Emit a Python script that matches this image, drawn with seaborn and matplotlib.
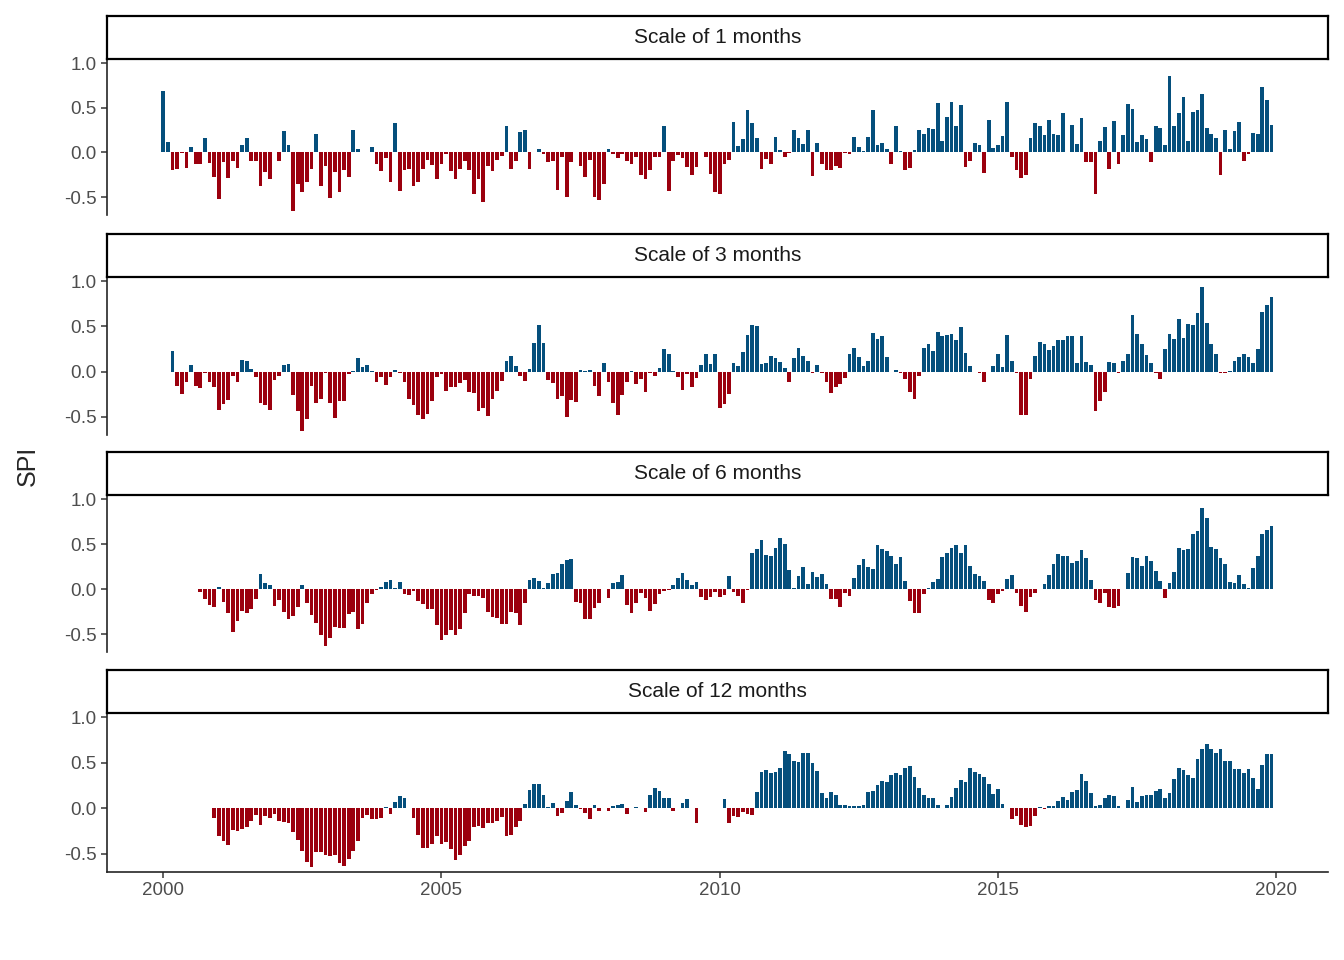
import numpy as np
import pandas as pd
import matplotlib

matplotlib.use("Agg")
import matplotlib.pyplot as plt
import seaborn as sns

sns.set_theme(style="ticks")
plt.rcParams["font.family"] = ["Liberation Sans", "DejaVu Sans"]

BLUE = "#054f7c"
RED = "#9b000e"

# SPI values, each series ends in Dec 2019
spi_1 = [
    0.69, 0.12, -0.20, -0.18, -0.01, -0.17, 0.06, -0.13, -0.13, 0.16, -0.12, -0.27,
    -0.52, -0.11, -0.29, -0.10, -0.17, 0.08, 0.16, -0.10, -0.10, -0.38, -0.22, -0.30,
    0.01, -0.10, 0.24, 0.08, -0.66, -0.35, -0.44, -0.33, -0.19, 0.21, -0.38, -0.15,
    -0.51, -0.22, -0.44, -0.20, -0.27, 0.25, 0.04, 0.01, 0.01, 0.06, -0.13, -0.21,
    -0.06, -0.33, 0.33, -0.43, -0.20, -0.18, -0.38, -0.33, -0.19, -0.09, -0.14, -0.30,
    -0.13, -0.02, -0.21, -0.30, -0.18, -0.10, -0.20, -0.47, -0.30, -0.56, -0.15, -0.21,
    -0.09, -0.04, 0.30, -0.18, -0.10, 0.23, 0.25, -0.18, 0.00, 0.04, -0.02, -0.11,
    -0.10, -0.42, -0.05, -0.50, -0.11, 0.00, -0.15, -0.27, -0.08, -0.50, -0.53, -0.35,
    0.04, -0.02, -0.06, -0.02, -0.10, -0.13, -0.05, -0.25, -0.30, -0.20, -0.05, -0.05,
    0.29, -0.43, -0.10, -0.03, -0.06, -0.16, -0.25, -0.16, 0.00, -0.05,
    -0.24, -0.44, -0.47, -0.13, -0.08, 0.34, 0.07, 0.15, 0.48, 0.33, 0.16, -0.19,
    -0.07, -0.13, 0.17, 0.03, -0.05, -0.01, 0.25, 0.16, 0.09, 0.25, -0.26, 0.11,
    -0.13, -0.20, -0.20, -0.15, -0.17, -0.01, -0.02, 0.17, 0.06, 0.02, 0.17, 0.48,
    0.08, 0.10, 0.04, -0.13, 0.29, 0.02, -0.20, -0.17, 0.03, 0.25, 0.21, 0.27,
    0.26, 0.55, 0.13, 0.40, 0.56, 0.30, 0.53, -0.16, -0.10, 0.10, 0.08, -0.23,
    0.36, 0.05, 0.08, 0.18, 0.56, -0.05, -0.20, -0.29, -0.25, 0.16, 0.33, 0.29,
    0.19, 0.36, 0.21, 0.20, 0.44, 0.01, 0.31, 0.09, 0.38, -0.11, -0.11, -0.46,
    0.13, 0.28, -0.19, 0.35, -0.13, 0.20, 0.54, 0.49, 0.12, 0.20, 0.15, -0.11,
    0.30, 0.27, 0.08, 0.86, 0.30, 0.44, 0.62, 0.13, 0.45, 0.48, 0.65, 0.27,
    0.21, 0.16, -0.25, 0.25, 0.04, 0.24, 0.34, -0.10, -0.02, 0.22, 0.21, 0.73,
    0.59, 0.31,
]

spi_3 = [
    0.23, -0.16, -0.25, -0.11, 0.07, -0.16, -0.18, -0.02, -0.11, -0.17, -0.42,
    -0.36, -0.31, -0.05, -0.11, 0.13, 0.12, 0.03, -0.06, -0.35, -0.37, -0.42,
    -0.09, -0.05, 0.07, 0.08, -0.26, -0.44, -0.66, -0.52, -0.16, -0.35, -0.30,
    -0.02, -0.35, -0.51, -0.32, -0.33, -0.03, 0.01, 0.15, 0.05, 0.07, 0.01,
    -0.11, -0.06, -0.15, -0.06, 0.02, -0.02, -0.11, -0.30, -0.37, -0.48, -0.52,
    -0.47, -0.33, -0.06, -0.03, -0.21, -0.17, -0.17, -0.13, -0.09, -0.22, -0.24,
    -0.43, -0.40, -0.49, -0.30, -0.21, -0.10, 0.12, 0.17, 0.06, -0.05, -0.10,
    0.03, 0.32, 0.51, 0.32, -0.09, -0.13, -0.30, -0.27, -0.50, -0.31, -0.34,
    0.02, 0.01, 0.02, -0.16, -0.27, 0.10, -0.11, -0.35, -0.48, -0.26, -0.11,
    0.01, -0.14, -0.08, -0.22, -0.01, -0.05, 0.04, 0.25, 0.19, 0.01, -0.06,
    -0.20, -0.03, -0.17, -0.07, 0.07, 0.20, 0.08, 0.20,
    -0.40, -0.36, -0.25, 0.09, 0.06, 0.22, 0.40, 0.51, 0.50, 0.08, 0.10, 0.17,
    0.15, 0.11, 0.04, -0.12, 0.15, 0.26, 0.17, 0.12, -0.01, 0.07, -0.01, -0.12,
    -0.24, -0.17, -0.14, -0.07, 0.19, 0.26, 0.16, 0.06, 0.12, 0.43, 0.36, 0.39,
    0.16, 0.00, 0.02, -0.02, -0.08, -0.22, -0.30, -0.05, 0.26, 0.30, 0.23, 0.44,
    0.39, 0.40, 0.41, 0.35, 0.49, 0.21, 0.06, 0.00, -0.02, -0.11, 0.00, 0.06,
    0.20, 0.05, 0.40, 0.12, -0.01, -0.48, -0.48, -0.08, 0.17, 0.33, 0.31, 0.24,
    0.28, 0.35, 0.35, 0.39, 0.39, 0.09, 0.39, 0.11, 0.07, -0.43, -0.33, -0.23,
    0.11, 0.09, -0.02, 0.12, 0.20, 0.62, 0.42, 0.31, 0.18, 0.10, -0.02, -0.08,
    0.25, 0.42, 0.36, 0.58, 0.37, 0.53, 0.52, 0.65, 0.94, 0.54, 0.31, 0.19,
    -0.01, -0.01, 0.01, 0.12, 0.16, 0.20, 0.16, 0.10, 0.25, 0.66, 0.74, 0.82,
]

spi_6 = [
    -0.03, -0.11, -0.18, -0.20, 0.02, -0.14, -0.27, -0.48, -0.35, -0.24, -0.27,
    -0.22, -0.11, 0.17, 0.07, 0.04, -0.19, -0.12, -0.26, -0.33, -0.30, -0.20,
    0.04, -0.15, -0.29, -0.38, -0.51, -0.63, -0.54, -0.42, -0.43, -0.43, -0.28,
    -0.26, -0.44, -0.39, -0.16, -0.06, -0.01, 0.02, 0.08, 0.10, 0.01, 0.08,
    -0.05, -0.07, -0.02, -0.13, -0.17, -0.22, -0.22, -0.40, -0.57, -0.51, -0.46,
    -0.51, -0.44, -0.27, -0.06, -0.08, -0.08, -0.10, -0.26, -0.31, -0.32, -0.39,
    -0.39, -0.26, -0.27, -0.40, -0.16, 0.10, 0.12, 0.09, 0.01, 0.07, 0.17, 0.18,
    0.28, 0.32, 0.33, -0.14, -0.15, -0.33, -0.33, -0.21, -0.15, 0.00, -0.10,
    0.07, 0.08, 0.16, -0.18, -0.27, -0.15, -0.04, -0.10, -0.24, -0.17, -0.05,
    -0.02, -0.01, 0.04, 0.12, 0.18, 0.10, 0.05, 0.08, -0.09, -0.12, -0.09,
    -0.03, -0.09, -0.07, 0.15, -0.03, -0.08, -0.16, -0.01, 0.40, 0.44, 0.55,
    0.38, 0.37, 0.46, 0.57, 0.50, 0.21, 0.01, 0.15, 0.24, 0.06, 0.19, 0.13,
    0.17, 0.06, -0.11, -0.11, -0.20, -0.04, -0.08, 0.12, 0.27, 0.33, 0.25, 0.22,
    0.49, 0.44, 0.42, 0.37, 0.28, 0.36, 0.09, -0.13, -0.27, -0.27, -0.06, 0.01,
    0.08, 0.11, 0.36, 0.40, 0.46, 0.49, 0.40, 0.49, 0.26, 0.17, 0.15, 0.09,
    -0.12, -0.16, -0.06, -0.02, 0.11, 0.16, -0.04, -0.19, -0.25, -0.09, -0.04,
    0.00, 0.06, 0.16, 0.28, 0.39, 0.37, 0.37, 0.29, 0.31, 0.43, 0.35, 0.10,
    -0.12, -0.16, -0.04, -0.20, -0.21, -0.19, 0.00, 0.18, 0.36, 0.34, 0.26,
    0.37, 0.31, 0.20, 0.09, -0.10, 0.07, 0.19, 0.46, 0.43, 0.44, 0.61, 0.64,
    0.90, 0.79, 0.47, 0.45, 0.35, 0.28, 0.08, 0.07, 0.16, 0.06, 0.01, 0.23,
    0.37, 0.61, 0.66, 0.70,
]

# 12-month scale: first part starts Dec 2000, second part ends Dec 2019
spi_12_early = [
    -0.11, -0.31, -0.36, -0.40, -0.24, -0.25, -0.23, -0.21, -0.14, -0.07, -0.18,
    -0.08, -0.11, -0.06, -0.14, -0.15, -0.16, -0.26, -0.35, -0.47, -0.59, -0.64,
    -0.48, -0.48, -0.51, -0.52, -0.51, -0.60, -0.63, -0.56, -0.47, -0.36, -0.11,
    -0.07, -0.12, -0.12, -0.11, 0.01, -0.06, 0.07, 0.13, 0.11, 0.00, -0.11,
    -0.29, -0.44, -0.44, -0.39, -0.31, -0.39, -0.37, -0.45, -0.57, -0.51, -0.41,
    -0.36, -0.21, -0.19, -0.22, -0.16, -0.16, -0.14, -0.10, -0.31, -0.29, -0.21,
    -0.14, 0.05, 0.20, 0.27, 0.27, 0.14, 0.01, 0.06, -0.09, -0.05, 0.08, 0.18,
    0.03, -0.01, -0.05, -0.12, 0.04, -0.03, 0.00, -0.03, 0.02, 0.03, 0.05,
    -0.06, 0.00, 0.01, 0.00, -0.04, 0.14, 0.22, 0.19, 0.11, 0.11, -0.03,
    0.00, 0.06, 0.10, 0.00, -0.16,
]
spi_12_late = [
    0.10, -0.16, -0.09, -0.10, -0.04, -0.06, -0.07, 0.18, 0.40, 0.42, 0.39,
    0.40, 0.44, 0.63, 0.59, 0.52, 0.51, 0.61, 0.61, 0.50, 0.41, 0.17, 0.11,
    0.18, 0.15, 0.03, 0.04, 0.02, 0.02, 0.02, 0.04, 0.18, 0.19, 0.26, 0.30,
    0.29, 0.36, 0.39, 0.36, 0.44, 0.46, 0.34, 0.22, 0.15, 0.11, 0.11, 0.03,
    0.00, 0.04, 0.12, 0.22, 0.31, 0.29, 0.44, 0.40, 0.38, 0.34, 0.27, 0.16,
    0.21, 0.05, 0.00, -0.12, -0.09, -0.18, -0.21, -0.20, -0.08, 0.01, -0.01,
    0.02, 0.02, 0.08, 0.12, 0.09, 0.18, 0.20, 0.38, 0.30, 0.17, 0.02, 0.03,
    0.11, 0.14, 0.13, 0.02, 0.00, 0.09, 0.23, 0.07, 0.13, 0.14, 0.14, 0.19,
    0.21, 0.11, 0.17, 0.32, 0.44, 0.42, 0.36, 0.33, 0.54, 0.65, 0.71, 0.65,
    0.61, 0.65, 0.52, 0.52, 0.43, 0.43, 0.39, 0.43, 0.33, 0.21, 0.47, 0.59,
    0.59,
]

scales = [1, 3, 6, 12]


def to_year(dates):
    return dates.year + (dates.month - 1) / 12


def frame_end(values):
    dates = pd.date_range(end="2019-12-01", periods=len(values), freq="MS")
    return pd.DataFrame({"year": to_year(dates), "spi": values})


def frame_start(values, start):
    dates = pd.date_range(start=start, periods=len(values), freq="MS")
    return pd.DataFrame({"year": to_year(dates), "spi": values})


frames = [
    frame_end(spi_1),
    frame_end(spi_3),
    frame_end(spi_6),
    pd.concat([frame_start(spi_12_early, "2000-12-01"), frame_end(spi_12_late)]),
]

W, H = 1344, 960
fig = plt.figure(figsize=(W / 100, H / 100), dpi=100)

# pixel layout of each panel: (strip top, strip bottom/axes top, axes bottom)
rows = [(16, 59, 215), (234, 277, 435), (452, 495, 652), (670, 713, 872)]
left, right = 107, 1328

for i, (scale, d) in enumerate(zip(scales, frames)):
    st, at, ab = rows[i]
    d = d.copy()
    d["sign"] = np.where(d["spi"] >= 0, "pos", "neg")
    ax = fig.add_axes([left / W, 1 - ab / H, (right - left) / W, (ab - at) / H])
    sns.barplot(data=d, x="year", y="spi", hue="sign", native_scale=True,
                palette={"pos": BLUE, "neg": RED}, width=0.8, saturation=1,
                legend=False, ax=ax, linewidth=0)
    ax.set_xlim(1998.99, 2020.93)
    ax.set_ylim(-0.70, 1.045)
    ax.set_yticks([-0.5, 0.0, 0.5, 1.0])
    ax.set_yticklabels(["-0.5", "0.0", "0.5", "1.0"])
    ax.set_xlabel("")
    ax.set_ylabel("")
    ax.tick_params(axis="both", labelsize=13.5, colors="#4d4d4d", length=4)
    for s in ["top", "right"]:
        ax.spines[s].set_visible(False)
    ax.spines["left"].set_linewidth(1.2)
    if i < 3:
        ax.spines["bottom"].set_visible(False)
        ax.set_xticks([])
    else:
        ax.spines["bottom"].set_linewidth(1.2)
        ax.set_xticks([2000, 2005, 2010, 2015, 2020])
        ax.set_xticklabels(["2000", "2005", "2010", "2015", "2020"])

    sx = fig.add_axes([left / W, 1 - at / H, (right - left) / W, (at - st) / H])
    sx.set_xticks([])
    sx.set_yticks([])
    sx.set_facecolor("white")
    for s in sx.spines.values():
        s.set_linewidth(1.6)
        s.set_color("black")
    sx.text(0.5, 0.5, f"Scale of {scale} months", ha="center", va="center",
            fontsize=15, color="#1a1a1a", transform=sx.transAxes)

fig.text(28 / W, 1 - 466 / H, "SPI", rotation=90, ha="center", va="center",
         fontsize=18)

plt.savefig("out.png", dpi=100)
